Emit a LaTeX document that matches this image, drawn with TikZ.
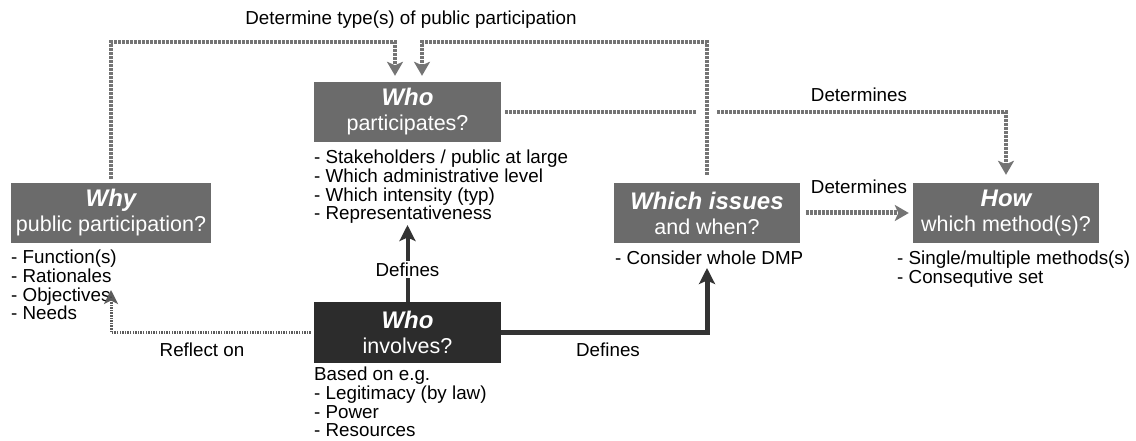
\documentclass[tikz,border=0pt]{standalone}
\usepackage{fontspec}
\setmainfont{Liberation Sans}
\usetikzlibrary{arrows.meta}
\definecolor{boxgray}{HTML}{6B6B6B}
\definecolor{darkbox}{HTML}{2C2C2C}
\definecolor{dotgray}{HTML}{747474}
\definecolor{arrowdark}{HTML}{333333}
\newcommand{\ttlfont}{\fontsize{24}{26}\selectfont\bfseries\itshape}
\begin{document}
\begin{tikzpicture}[x=1pt,y=-1pt,
  box/.style={fill=boxgray, text=white, inner sep=0pt, align=center,
    minimum height=60pt, font=\fontsize{21.5}{25}\selectfont},
  listtext/.style={align=left, inner sep=0pt, anchor=north west,
    font=\fontsize{18.8}{18.6}\selectfont},
  lbl/.style={inner sep=0pt, font=\fontsize{18.8}{20}\selectfont},
  dotarrow/.style={draw=dotgray, line width=4pt, dash pattern=on 2.4pt off 1.6pt,
    -{Stealth[length=14pt, width=16pt, inset=3.5pt, fill=dotgray]}},
  solidarrow/.style={draw=arrowdark, line width=4pt,
    -{Stealth[length=16pt, width=16pt, inset=3.5pt]}},
]
\useasboundingbox (0,0) rectangle (1136,441);

% boxes
\node[box, minimum width=200pt] (why) at (111,213) {{\ttlfont Why}\\public participation?};
\node[box, minimum width=187pt] (wp) at (407.5,112) {{\ttlfont Who}\\participates?};
\node[box, minimum width=187pt, minimum height=61pt, fill=darkbox] (wi) at (407.5,332.5) {{\ttlfont Who}\\involves?};
\node[box, minimum width=186pt] (wh) at (707,213) {{\ttlfont Which issues}\\and when?};
\node[box, minimum width=186pt] (how) at (1006,213) {{\ttlfont How}\\which method(s)?};

% lists
\node[listtext] (whyl) at (11,250) {- Function(s)\\- Rationales\\- Objectives\\- Needs};
\node[listtext] (wpl) at (314,150) {- Stakeholders / public at large\\- Which administrative level\\- Which intensity (typ)\\- Representativeness};
\node[listtext] (wil) at (314,367) {Based on e.g.\\- Legitimacy (by law)\\- Power\\- Resources};
\node[listtext] (whl) at (615,251) {- Consider whole DMP};
\node[listtext] (howl) at (897,251) {- Single/multiple methods(s)\\- Consequtive set};

% labels
\node[lbl] (ldet) at (411,20) {Determine type(s) of public participation};
\node[lbl] (ldet1) at (859,95) {Determines};
\node[lbl] (ldet2) at (859,187) {Determines};
\node[lbl] (lref) at (202,350) {Reflect on};
\node[lbl] (ldef2) at (608,350) {Defines};

% helper coordinates
\coordinate (t1) at (395,42);
\coordinate (t2) at (422,42);
\coordinate (deftip) at (407.5,225);
\coordinate (refltip) at (111,290);
\coordinate (deftip2) at (707,268);
\coordinate (cross) at (wh.north |- wp.east);

% Who participates -> How
\draw[dotarrow, shorten <=4pt, shorten >=8pt] (wp.east) -| (how.north);
\fill[white] ([xshift=-10pt,yshift=-5pt]cross) rectangle ([xshift=10pt,yshift=5pt]cross);

% Why -> Who participates
\draw[dotarrow, shorten <=4pt, shorten >=6pt] (why.north) |- (t1) -- (t1 |- wp.north);
% Which issues -> Who participates
\draw[dotarrow, shorten <=8pt, shorten >=6pt] (wh.north) |- (t2) -- (t2 |- wp.north);

% Which issues -> How
\draw[dotarrow, line width=5pt, shorten <=6pt, shorten >=4pt] (wh.east) -- (how.west);

% Who involves -> Why (reflect)
\draw[dotarrow, draw=arrowdark!80, line width=3pt, dash pattern=on 1.5pt off 1.1pt, shorten <=3pt,
  -{Stealth[length=14pt, width=14pt, inset=3.5pt, fill=arrowdark]}] (wi.west) -| (refltip);

% Who involves -> Who participates
\draw[solidarrow] (wi.north) -- (deftip) node[pos=0.42, fill=white, inner sep=2pt, font=\fontsize{18.8}{20}\selectfont] (ldef1) {Defines};

% Who involves -> Which issues
\draw[solidarrow, line width=5pt] (wi.east) -| (deftip2);
\end{tikzpicture}
\end{document}
